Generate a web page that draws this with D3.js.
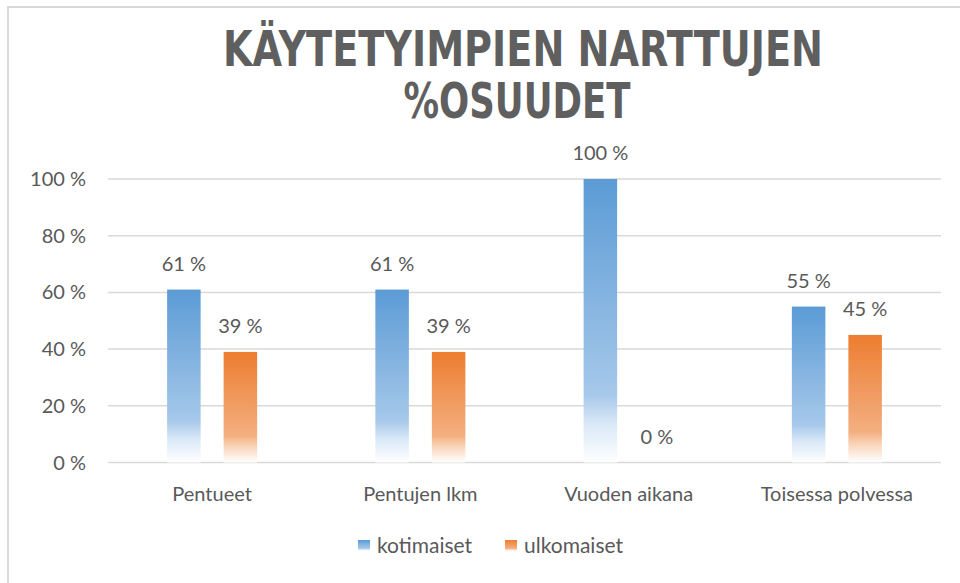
<!DOCTYPE html>
<html>
<head>
<meta charset="utf-8">
<script src="https://cdn.jsdelivr.net/npm/d3@7"></script>
<style>
  body { margin: 0; background: #fff; }
  text { font-family: Lato, "Open Sans", sans-serif; }
</style>
</head>
<body>
<div id="chart"></div>
<script>
// data
var categories = ["Pentueet", "Pentujen lkm", "Vuoden aikana", "Toisessa polvessa"]
var seriesNames = ["kotimaiset", "ulkomaiset"]
var kotimaiset = [0.61, 0.61, 1.00, 0.55]
var ulkomaiset = [0.39, 0.39, 0.00, 0.45]
var yTicks = [0, 0.2, 0.4, 0.6, 0.8, 1.0]

var width = 960, height = 583
var plotLeft = 108, plotRight = 941, plotTop = 179, plotBottom = 462.5
var textColor = "#595959"

var svg = d3.select("#chart").append("svg")
    .attr("width", width)
    .attr("height", height)

// gradients, solid at top fading to white at bottom
var defs = svg.append("defs")
var stops = {
  kotimaiset: ["#5b9bd5", "#a6c8ea", "#d8e7f6", "#ffffff"],
  ulkomaiset: ["#ed7d31", "#f3af80", "#f9d6bb", "#ffffff"]
}
seriesNames.forEach(function(s) {
  var g = defs.append("linearGradient")
      .attr("id", "grad-" + s)
      .attr("x1", 0).attr("y1", 0).attr("x2", 0).attr("y2", 1)
  var offs = [0, 0.76, 0.86, 1]
  offs.forEach(function(o, i) {
    g.append("stop").attr("offset", o).attr("stop-color", stops[s][i])
  })
})

// frame (only top and left edges are in view)
svg.append("path")
    .attr("d", "M8,583 L8,7 L960,7")
    .attr("fill", "none")
    .attr("stroke", "#d9d9d9")
    .attr("stroke-width", 2)

// title
var titleLines = ["KÄYTETYIMPIEN NARTTUJEN", "%OSUUDET"]
var titleY = [66, 118]
var titleX = [523, 517]
var titleLen = [600, 227]
titleLines.forEach(function(t, i) {
  svg.append("text")
      .attr("x", titleX[i])
      .attr("y", titleY[i])
      .attr("text-anchor", "middle")
      .attr("textLength", titleLen[i])
      .attr("lengthAdjust", "spacingAndGlyphs")
      .style("font-family", "'DejaVu Sans', sans-serif")
      .style("font-weight", "bold")
      .style("font-size", "49px")
      .style("fill", "#5f5f5f")
      .text(t)
})

var x = d3.scaleBand()
    .domain(categories)
    .range([plotLeft, plotRight])
    .padding(0)

var xs = d3.scaleBand()
    .domain(seriesNames)
    .range([0, x.bandwidth()])
    .paddingInner(0.407)
    .paddingOuter(1.046)

var y = d3.scaleLinear()
    .domain([0, 1])
    .range([plotBottom, plotTop])

var fmt = function(v) { return d3.format(".0%")(v).replace("%", " %") }

// gridlines
svg.append("g")
  .selectAll("line")
  .data(yTicks)
  .enter()
  .append("line")
    .attr("x1", plotLeft)
    .attr("x2", plotRight)
    .attr("y1", function(d) { return y(d) })
    .attr("y2", function(d) { return y(d) })
    .attr("stroke", "#d9d9d9")
    .attr("stroke-width", 1.5)

// y tick labels
svg.append("g")
  .selectAll("text")
  .data(yTicks)
  .enter()
  .append("text")
    .attr("x", 86)
    .attr("y", function(d) { return y(d) })
    .attr("dy", "0.35em")
    .attr("text-anchor", "end")
    .style("font-size", "20px")
    .style("fill", textColor)
    .text(fmt)

// bars
var rows = categories.map(function(c, i) {
  return {cat: c, values: [
    {key: "kotimaiset", value: kotimaiset[i]},
    {key: "ulkomaiset", value: ulkomaiset[i]}
  ]}
})

var groups = svg.append("g")
  .selectAll("g")
  .data(rows)
  .enter()
  .append("g")
    .attr("transform", function(d) { return "translate(" + x(d.cat) + ",0)" })

groups.selectAll("rect")
  .data(function(d) { return d.values.filter(function(v) { return v.value > 0 }) })
  .enter()
  .append("rect")
    .attr("x", function(d) { return xs(d.key) })
    .attr("y", function(d) { return y(d.value) })
    .attr("width", xs.bandwidth())
    .attr("height", function(d) { return y(0) - y(d.value) })
    .attr("fill", function(d) { return "url(#grad-" + d.key + ")" })

groups.selectAll("text")
  .data(function(d) { return d.values })
  .enter()
  .append("text")
    .attr("x", function(d) { return xs(d.key) + xs.bandwidth() / 2 })
    .attr("y", function(d) { return y(d.value) - 19 })
    .attr("text-anchor", "middle")
    .style("font-size", "20px")
    .style("fill", textColor)
    .text(function(d) { return fmt(d.value) })

// category labels
svg.append("g")
  .selectAll("text")
  .data(categories)
  .enter()
  .append("text")
    .attr("x", function(d) { return x(d) + x.bandwidth() / 2 })
    .attr("y", 501)
    .attr("text-anchor", "middle")
    .style("font-size", "20px")
    .style("fill", textColor)
    .text(function(d) { return d })

// legend
var legendX = [358, 505]
var legend = svg.append("g")
  .selectAll("g")
  .data(seriesNames)
  .enter()
  .append("g")
    .attr("transform", function(d, i) { return "translate(" + legendX[i] + ",540)" })

legend.append("rect")
    .attr("width", 12)
    .attr("height", 11)
    .attr("fill", function(d) { return "url(#grad-" + d + ")" })

legend.append("text")
    .attr("x", 19)
    .attr("y", 13)
    .style("font-size", "21px")
    .style("fill", textColor)
    .text(function(d) { return d })
</script>
</body>
</html>
